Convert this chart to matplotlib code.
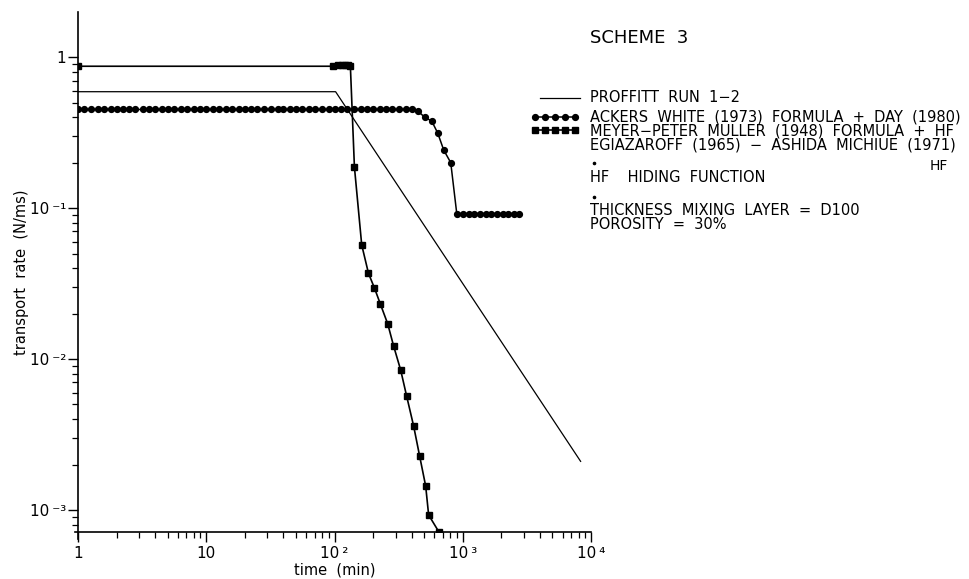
import matplotlib
matplotlib.use('Agg')
import matplotlib.pyplot as plt
from matplotlib.lines import Line2D
from matplotlib.ticker import FixedLocator, LogLocator, NullFormatter

plt.rcParams['font.family'] = ['DejaVu Sans']

# PROFFITT RUN 1-2 (measured)
proffitt_t = [1, 102, 8300]
proffitt_q = [0.59, 0.59, 0.0021]

# ACKERS WHITE (1973) FORMULA + DAY (1980)
ackers_t = [1, 1.12, 1.26, 1.42, 1.6, 1.8, 2.0, 2.25, 2.5, 2.8, 3.2, 3.6, 4.0,
            4.5, 5.0, 5.6, 6.3, 7.1, 8.0, 9.0, 10, 11.2, 12.6, 14.2, 16, 18,
            20, 22.5, 25, 28, 32, 36, 40, 45, 50, 56, 63, 71, 80, 90, 100,
            112, 126, 142, 160, 180, 200, 225, 250, 280, 320, 360, 400,
            445, 505, 573, 638, 711, 806, 898, 1000, 1120, 1220, 1370, 1520,
            1660, 1840, 2060, 2260, 2520, 2740]
ackers_q = [0.45] * 53 + [0.44, 0.40, 0.377, 0.314, 0.242, 0.20] + [0.092] * 12

# MEYER-PETER MULLER (1948) FORMULA + HF
meyer_t = [1, 98, 106, 114, 121, 128, 133, 143, 163, 184, 205, 228, 260, 289,
           328, 365, 414, 461, 514, 542, 649]
meyer_q = [0.87, 0.87, 0.88, 0.89, 0.89, 0.88, 0.87, 0.187, 0.057, 0.037,
           0.0295, 0.0231, 0.0171, 0.0122, 0.00846, 0.00569, 0.0036, 0.00228,
           0.00144, 0.000927, 0.00072]

x_ticks = [1, 10, 100, 1000, 10000]
x_labels = ['1', '10', '10\u2009\u00b2', '10\u2009\u00b3', '10\u2009\u2074']
y_ticks = [1, 0.1, 0.01, 0.001]
y_labels = ['1', '10\u2009\u207b\u00b9', '10\u2009\u207b\u00b2',
            '10\u2009\u207b\u00b3']

legend_lines = ['ACKERS  WHITE  (1973)  FORMULA  +  DAY  (1980)',
                'MEYER\u2212PETER  MULLER  (1948)  FORMULA  +  HF',
                'EGIAZAROFF  (1965)  \u2212  ASHIDA  MICHIUE  (1971)']
note_lines = ['THICKNESS  MIXING  LAYER  =  D100', 'POROSITY  =  30%']

W, H = 970, 579
fig = plt.figure(figsize=(W / 100, H / 100), dpi=100)
ax = fig.add_axes([78 / W, 1 - 532 / H, (591 - 78) / W, (532 - 12) / H])
ax.set_xscale('log')
ax.set_yscale('log')
ax.set_xlim(1, 1e4)
ax.set_ylim(7.15e-4, 1.99)

ax.plot(proffitt_t, proffitt_q, color='black', lw=0.9)
ax.plot(ackers_t, ackers_q, color='black', lw=1.1, marker='o', ms=4.2)
ax.plot(meyer_t, meyer_q, color='black', lw=1.2, marker='s', ms=4.0)

for s in ['top', 'right']:
    ax.spines[s].set_visible(False)
ax.spines['left'].set_bounds(6.4e-4, 1.99)
ax.spines['bottom'].set_bounds(0.94, 1e4)
for s in ['left', 'bottom']:
    ax.spines[s].set_linewidth(1.2)

ax.xaxis.set_major_locator(FixedLocator(x_ticks))
ax.set_xticklabels(x_labels)
ax.xaxis.set_minor_locator(LogLocator(base=10, subs=range(2, 10)))
ax.xaxis.set_minor_formatter(NullFormatter())
ax.yaxis.set_major_locator(FixedLocator(y_ticks))
ax.set_yticklabels(y_labels)
ax.yaxis.set_minor_locator(LogLocator(base=10, subs=range(2, 10)))
ax.yaxis.set_minor_formatter(NullFormatter())
ax.tick_params(which='major', direction='out', length=7, width=1.0,
               labelsize=11)
ax.tick_params(axis='y', which='major', pad=1.5)
ax.tick_params(axis='x', which='major', pad=3)
ax.tick_params(which='minor', direction='out', length=4.5, width=0.9)

ax.set_xlabel('time  (min)', fontsize=10.5)
ax.xaxis.set_label_coords(0.5, -0.058)
ax.set_ylabel('transport  rate  (N/ms)', fontsize=10.5)
ax.yaxis.set_label_coords(-0.095, 0.5)


def fpos(x, y):
    return x / W, 1 - y / H


def fdot(x, y):
    fig.add_artist(Line2D([x / W], [1 - y / H], color='black', marker='o',
                          ms=1.6, lw=0, transform=fig.transFigure))


# legend block (drawn by hand, as in the original plot)
fs = 10.5
fig.text(*fpos(590, 38), 'SCHEME  3', fontsize=13, va='center')
fig.add_artist(Line2D([540 / W, 580 / W], [1 - 98 / H] * 2, color='black',
                      lw=0.9, transform=fig.transFigure))
fig.add_artist(Line2D([535 / W, 545 / W, 555 / W, 565 / W, 575 / W],
                      [1 - 117 / H] * 5, color='black', lw=1.1, marker='o',
                      ms=4.2, transform=fig.transFigure))
fig.add_artist(Line2D([535 / W, 545 / W, 555 / W, 565 / W, 575 / W],
                      [1 - 130 / H] * 5, color='black', lw=1.2, marker='s',
                      ms=4.0, transform=fig.transFigure))
fig.text(*fpos(590, 98), 'PROFFITT  RUN  1\u22122', fontsize=fs, va='center')
fig.text(*fpos(590, 110), '\n'.join(legend_lines), fontsize=fs, va='top',
         linespacing=0.88)
fig.text(*fpos(948, 166), 'HF', fontsize=fs - 0.5, va='center', ha='right')
fdot(594, 163)
fig.text(*fpos(590, 177), 'HF    HIDING  FUNCTION', fontsize=fs, va='center')
fdot(594, 197)
fig.text(*fpos(590, 203), '\n'.join(note_lines), fontsize=fs, va='top',
         linespacing=0.88)

fig.savefig('out.png', dpi=100)
